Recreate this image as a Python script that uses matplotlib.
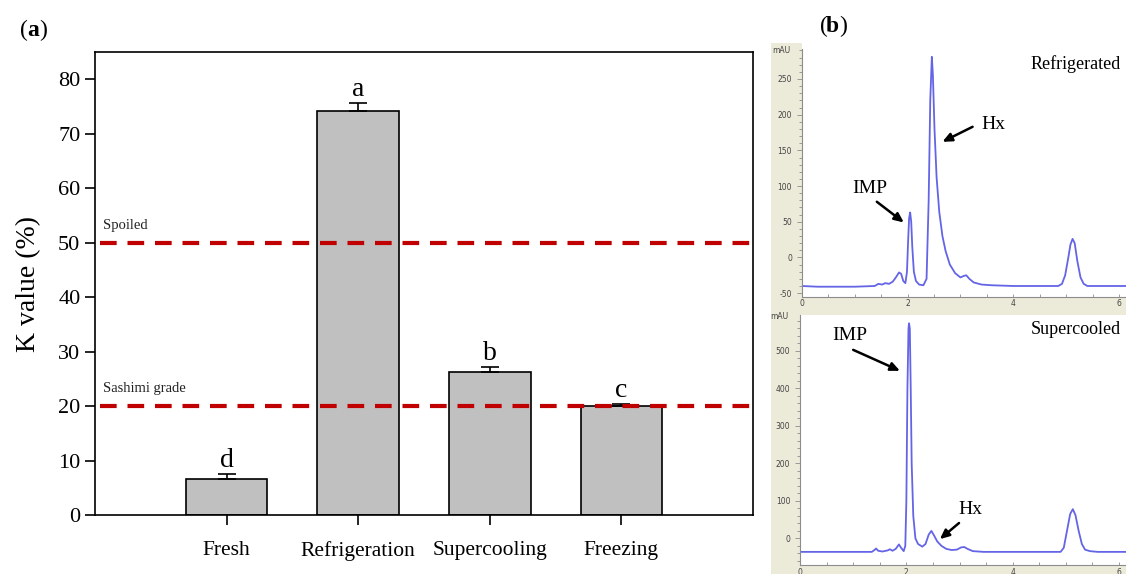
import numpy as np
import matplotlib
matplotlib.use("Agg")
import matplotlib.pyplot as plt
from matplotlib.patches import Rectangle
from matplotlib.ticker import MultipleLocator

plt.rcParams["axes.unicode_minus"] = False

# K value per storage condition
groups = ["Fresh", "Refrigeration", "Supercooling", "Freezing"]
k_value = [6.7, 74.2, 26.3, 20.0]
k_err = [0.8, 1.5, 0.9, 0.4]
sig_letters = ["d", "a", "b", "c"]
spoiled_level = 50
sashimi_level = 20

# HPLC traces (retention time in min, absorbance in mAU)
ref_time = [0.00, 0.30, 1.00, 1.38, 1.45, 1.52, 1.58, 1.65, 1.72, 1.78, 1.84, 1.88,
            1.92, 1.96, 1.99, 2.01, 2.03, 2.05, 2.07, 2.09, 2.12, 2.16, 2.22, 2.30,
            2.36, 2.40, 2.43, 2.46, 2.48, 2.51, 2.55, 2.60, 2.66, 2.72, 2.80, 2.90,
            3.00, 3.06, 3.11, 3.17, 3.25, 3.40, 3.60, 4.00, 4.85, 4.92, 4.98, 5.04,
            5.08, 5.12, 5.16, 5.21, 5.27, 5.33, 5.40, 6.15]
ref_mau = [-40, -41, -41, -40, -37, -38, -36, -37, -34, -28, -21, -23,
           -33, -36, -20, 20, 55, 63, 50, 15, -20, -33, -38, -39,
           -30, 80, 220, 281, 255, 180, 112, 64, 30, 9, -10, -22,
           -28, -26, -25, -30, -35, -38, -39, -40, -40, -37, -25, 0,
           18, 26, 20, -5, -28, -37, -40, -40]

sup_time = [0.00, 1.35, 1.40, 1.43, 1.47, 1.55, 1.65, 1.69, 1.74, 1.80, 1.86, 1.90,
            1.95, 1.98, 2.00, 2.02, 2.04, 2.05, 2.065, 2.08, 2.10, 2.13, 2.17, 2.22,
            2.30, 2.36, 2.42, 2.47, 2.52, 2.58, 2.66, 2.75, 2.85, 2.95, 3.03, 3.09,
            3.15, 3.25, 3.45, 4.90, 4.96, 5.02, 5.08, 5.13, 5.18, 5.24, 5.30, 5.36,
            5.45, 5.60, 6.15]
sup_mau = [-36, -36, -31, -27, -33, -35, -32, -29, -33, -28, -16, -25,
           -34, -20, 100, 400, 560, 574, 560, 420, 200, 60, 0, -15,
           -22, -15, 10, 20, 8, -8, -20, -28, -31, -30, -24, -23,
           -28, -34, -36, -36, -25, 20, 65, 78, 62, 20, -15, -30,
           -34, -36, -36]

W, H = 1126, 574
fig = plt.figure(figsize=(W / 100, H / 100), dpi=100)
serif = "Liberation Serif"


def box(x0, y0, x1, y1):
    # pixel box (top-left origin) -> figure fraction rect
    return [x0 / W, 1 - y1 / H, (x1 - x0) / W, (y1 - y0) / H]


# ---- (a) bar chart ----
ax = fig.add_axes(box(95, 52, 753, 515))
x = np.arange(len(groups))
ax.bar(x, k_value, width=0.62, color="#c0c0c0", edgecolor="black", linewidth=1.2, zorder=2)
ax.errorbar(x, k_value, yerr=[[0] * len(k_err), k_err], fmt="none", ecolor="black",
            elinewidth=1.2, capsize=6.5, capthick=1.2, zorder=3)
for xi, v, e, s in zip(x, k_value, k_err, sig_letters):
    ax.text(xi, v + e + 1.3, s, ha="center", va="baseline", fontsize=20, family=serif)

for lvl, lab in [(spoiled_level, "Spoiled"), (sashimi_level, "Sashimi grade")]:
    ax.plot([-0.96, 4], [lvl, lvl], color="#c00000", lw=3, dashes=(4, 2.6), zorder=4)
    ax.text(-0.94, lvl + 2.0, lab, fontsize=10.5, family=serif, va="bottom", color="#222222")

ax.set_xlim(-1, 4)
ax.set_ylim(0, 85)
ax.set_yticks(range(0, 81, 10))
ax.set_xticks(x)
ax.set_xticklabels(groups)
ax.set_ylabel("K value (%)", fontsize=20, family=serif, labelpad=12)
ax.tick_params(axis="both", direction="out", length=7, width=1.2, labelsize=16)
ax.tick_params(axis="x", pad=12, labelsize=15.5)
for lbl in ax.get_xticklabels() + ax.get_yticklabels():
    lbl.set_family(serif)
for sp in ax.spines.values():
    sp.set_linewidth(1.2)

# panel letters: plain brackets, bold letter
fig.text(20 / W, 1 - 30 / H, "(", fontsize=17, family=serif, va="center")
fig.text(27 / W, 1 - 30 / H, "a", fontsize=17, family=serif, weight="bold", va="center")
fig.text(39 / W, 1 - 30 / H, ")", fontsize=17, family=serif, va="center")
fig.text(820 / W, 1 - 26 / H, "(", fontsize=17, family=serif, va="center")
fig.text(826 / W, 1 - 26 / H, "b", fontsize=17, family=serif, weight="bold", va="center")
fig.text(839 / W, 1 - 26 / H, ")", fontsize=17, family=serif, va="center")

# ---- (b) chromatograms ----
beige = "#ecead9"
fig.patches.append(Rectangle((771 / W, 0), (W - 771) / W, 1 - 43 / H,
                             transform=fig.transFigure, facecolor=beige,
                             edgecolor="none", zorder=0))
# white strip above the first trace window
fig.patches.append(Rectangle((802 / W, 1 - 49.5 / H), (W - 802) / W, 7 / H,
                             transform=fig.transFigure, facecolor="white",
                             edgecolor="none", zorder=0.5))


def chrom(rect, t, y, ylim, major, minor, label, notes):
    c = fig.add_axes(rect, zorder=2)
    c.set_facecolor("white")
    c.plot(t, y, color="#6464e6", lw=1.3)
    c.set_xlim(0, 6.13)
    c.set_ylim(*ylim)
    c.yaxis.set_major_locator(MultipleLocator(major))
    c.yaxis.set_minor_locator(MultipleLocator(minor))
    c.xaxis.set_major_locator(MultipleLocator(2))
    c.xaxis.set_minor_locator(MultipleLocator(0.5))
    for s in ["top", "right"]:
        c.spines[s].set_visible(False)
    for s in ["left", "bottom"]:
        c.spines[s].set_color("#8c8c8c")
        c.spines[s].set_linewidth(0.8)
    c.tick_params(axis="y", which="both", direction="out", colors="#8c8c8c",
                  labelcolor="#444444", labelsize=5.5, length=2.5, width=0.6)
    c.tick_params(axis="y", which="major", length=3.5)
    c.tick_params(axis="x", which="both", direction="in", colors="#8c8c8c",
                  labelcolor="#444444", labelsize=5.5, length=2.5, width=0.6, pad=2)
    c.text(-0.035, 0.995, "mAU", transform=c.transAxes, ha="right", va="center",
           fontsize=5.5, color="#444444")
    c.text(0.985, 0.94, label, transform=c.transAxes, ha="right", va="center",
           fontsize=13, family=serif)
    for txt, tpos, tail, head in notes:
        c.text(tpos[0], tpos[1], txt, ha="center", va="center", fontsize=14, family=serif)
        c.annotate("", xy=head, xytext=tail,
                   arrowprops=dict(arrowstyle="-|>,head_length=0.55,head_width=0.25",
                                   color="black", lw=1.8, shrinkA=0, shrinkB=0))
    return c


chrom(box(801.7, 49, W, 296.7), ref_time, ref_mau, (-55, 292), 50, 10, "Refrigerated",
      [("IMP", (1.29, 96), (1.42, 78), (1.93, 49)),
       ("Hx", (3.62, 186), (3.23, 183), (2.66, 162))])
chrom(box(800, 315, W, 565), sup_time, sup_mau, (-71, 596), 100, 20, "Supercooled",
      [("IMP", (0.94, 540), (1.0, 503), (1.88, 447)),
       ("Hx", (3.21, 76), (2.99, 41), (2.63, -2))])

fig.savefig("out.png", dpi=100)
